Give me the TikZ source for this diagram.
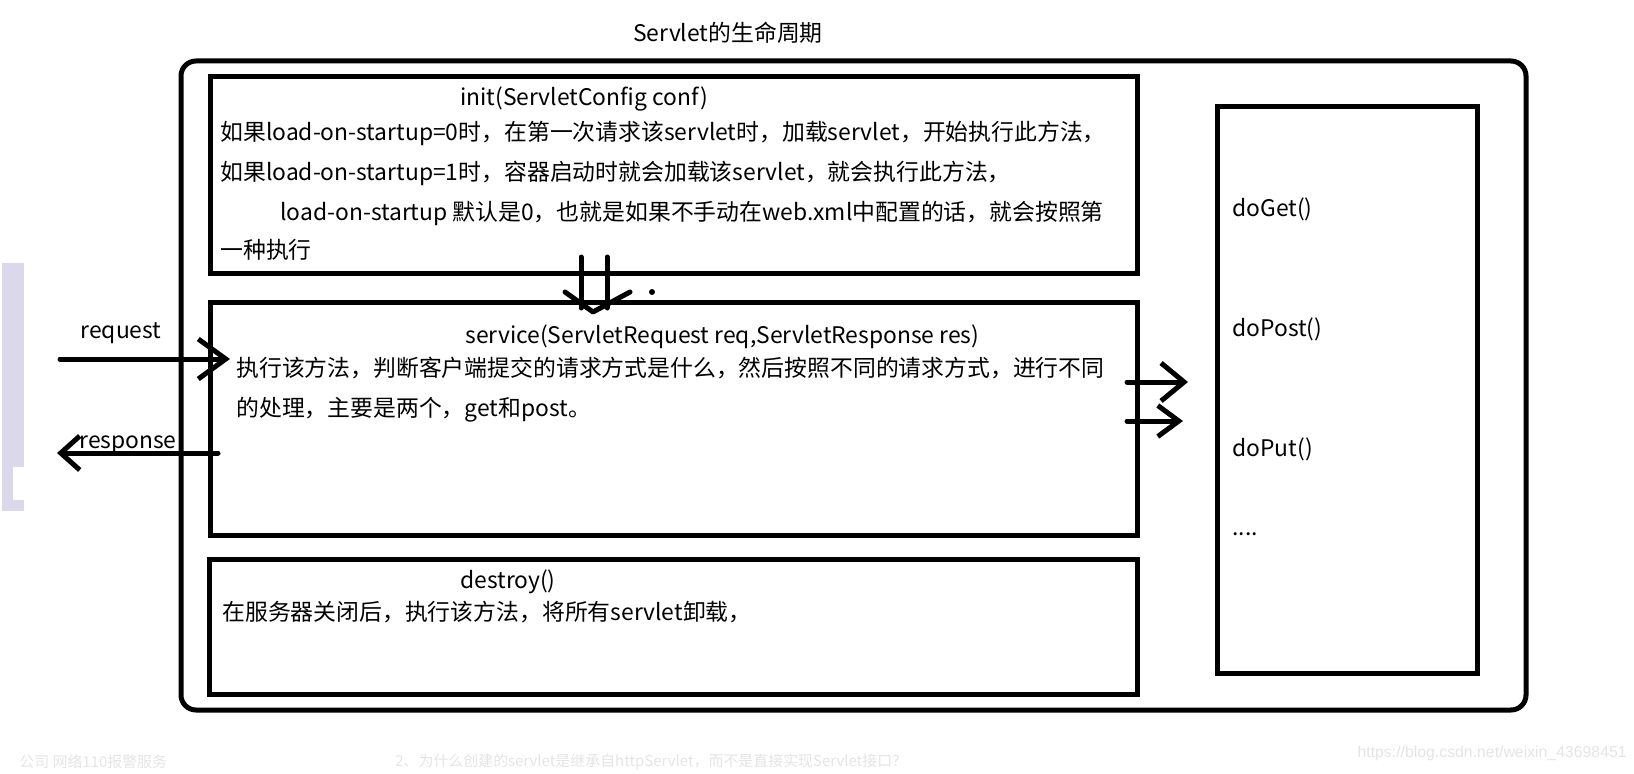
\documentclass[tikz,border=0pt]{standalone}
\usepackage{fontspec}
\setmainfont{Noto Sans CJK SC}
\newfontfamily\markfont{Liberation Sans}
\usetikzlibrary{arrows.meta}
\definecolor{sidebar}{RGB}{218,216,234}
\definecolor{faint}{RGB}{228,228,228}

\tikzset{
  box/.style={draw, line width=0.1cm, inner sep=0pt},
  txt/.style={inner sep=0pt, anchor=west, font=\fontsize{13pt}{16pt}\selectfont,
              text height=0.41cm, text depth=0.06cm},
  hand/.style={line width=0.1cm, line cap=round, line join=round},
  ghost/.style={inner sep=0pt, anchor=west, text=faint, font=\fontsize{8.5pt}{10pt}\selectfont}
}

\begin{document}
\begin{tikzpicture}[>=Stealth]
  \useasboundingbox (0,0) rectangle (32.68,15.46);

  % --- screenshot leftovers ---
  \fill[sidebar] (0.04,5.24) rectangle (0.48,10.20);
  \fill[white] (0.26,5.46) rectangle (0.48,6.12);
  \node[ghost] (footA) at (0.38,0.22) {公司 网络110报警服务};
  \node[ghost] (footB) at (7.90,0.22) {2、为什么创建的servlet是继承自httpServlet，而不是直接实现Servlet接口？};
  \node[ghost, anchor=east, font=\markfont\fontsize{9pt}{10pt}\selectfont] (mark) at (32.54,0.40) {https://blog.csdn.net/weixin\_43698451};

  % --- frame ---
  \node[box, rounded corners=0.3cm, minimum width=26.90cm, minimum height=12.98cm] (servlet) at (17.07,7.75) {};
  \node[txt, anchor=center] (title) at (14.56,14.80) {Servlet的生命周期};

  % init
  \node[box, minimum width=18.54cm, minimum height=3.92cm] (init) at (13.47,11.96) {};
  \node[txt] (initHead) at (9.20,13.52) {init(ServletConfig conf)};
  \node[txt] (initA) at (4.40,12.82) {如果load-on-startup=0时，在第一次请求该servlet时，加载servlet，开始执行此方法，};
  \node[txt] (initB) at (4.40,12.02) {如果load-on-startup=1时，容器启动时就会加载该servlet，就会执行此方法，};
  \node[txt] (initC) at (5.60,11.22) {load-on-startup 默认是0，也就是如果不手动在web.xml中配置的话，就会按照第};
  \node[txt] (initD) at (4.40,10.46) {一种执行};

  % service
  \node[box, minimum width=18.54cm, minimum height=4.66cm] (service) at (13.47,7.09) {};
  \node[txt] (serviceHead) at (9.30,8.76) {service(ServletRequest req,ServletResponse res)};
  \node[txt] (serviceA) at (4.72,8.10) {执行该方法，判断客户端提交的请求方式是什么，然后按照不同的请求方式，进行不同};
  \node[txt] (serviceB) at (4.72,7.30) {的处理，主要是两个，get和post。};

  % destroy
  \node[box, minimum width=18.56cm, minimum height=2.70cm] (destroy) at (13.46,2.93) {};
  \node[txt] (destroyHead) at (9.20,3.86) {destroy()};
  \node[txt] (destroyA) at (4.44,3.22) {在服务器关闭后，执行该方法，将所有servlet卸载，};

  % doXxx methods
  \node[box, minimum width=5.20cm, minimum height=11.32cm] (methods) at (26.94,7.66) {};
  \node[txt] (doGet) at (24.64,11.30) {doGet()};
  \node[txt] (doPost) at (24.64,8.90) {doPost()};
  \node[txt] (doPut) at (24.64,6.50) {doPut()};
  \node[txt, anchor=base west] (more) at (24.64,4.76) {....};

  % --- arrows ---
  % init down to service
  \coordinate (down) at (11.86,9.22);
  \draw[hand] (11.62,10.32) -- (11.62,9.30);
  \draw[hand] (12.14,10.32) -- (12.14,9.30);
  \draw[hand] (11.30,9.62) -- (down) -- (12.60,9.62);
  \fill (13.04,9.62) circle (0.06);

  % request / response
  \coordinate (reqStart) at (1.20,8.28);
  \coordinate (reqEnd) at (4.60,8.28);
  \draw[hand, -{Straight Barb[length=0.55cm,width=0.8cm]}] (reqStart) -- (reqEnd);
  \node[txt, anchor=center] (reqLabel) at (2.42,8.86) {request};

  \coordinate (resStart) at (4.36,6.40);
  \coordinate (resEnd) at (1.14,6.40);
  \draw[hand, -{Straight Barb[length=0.38cm,width=0.68cm]}] (resStart) -- (resEnd);
  \node[txt, anchor=center] (resLabel) at (2.56,6.66) {response};

  % service to methods
  \coordinate (getStart) at (22.54,7.82);
  \coordinate (getEnd) at (23.76,7.82);
  \coordinate (postStart) at (22.54,7.04);
  \coordinate (postEnd) at (23.66,7.04);
  \draw[hand, -{Straight Barb[length=0.46cm,width=0.76cm]}] (getStart) -- (getEnd);
  \draw[hand, -{Straight Barb[length=0.42cm,width=0.62cm]}] (postStart) -- (postEnd);
\end{tikzpicture}
\end{document}
